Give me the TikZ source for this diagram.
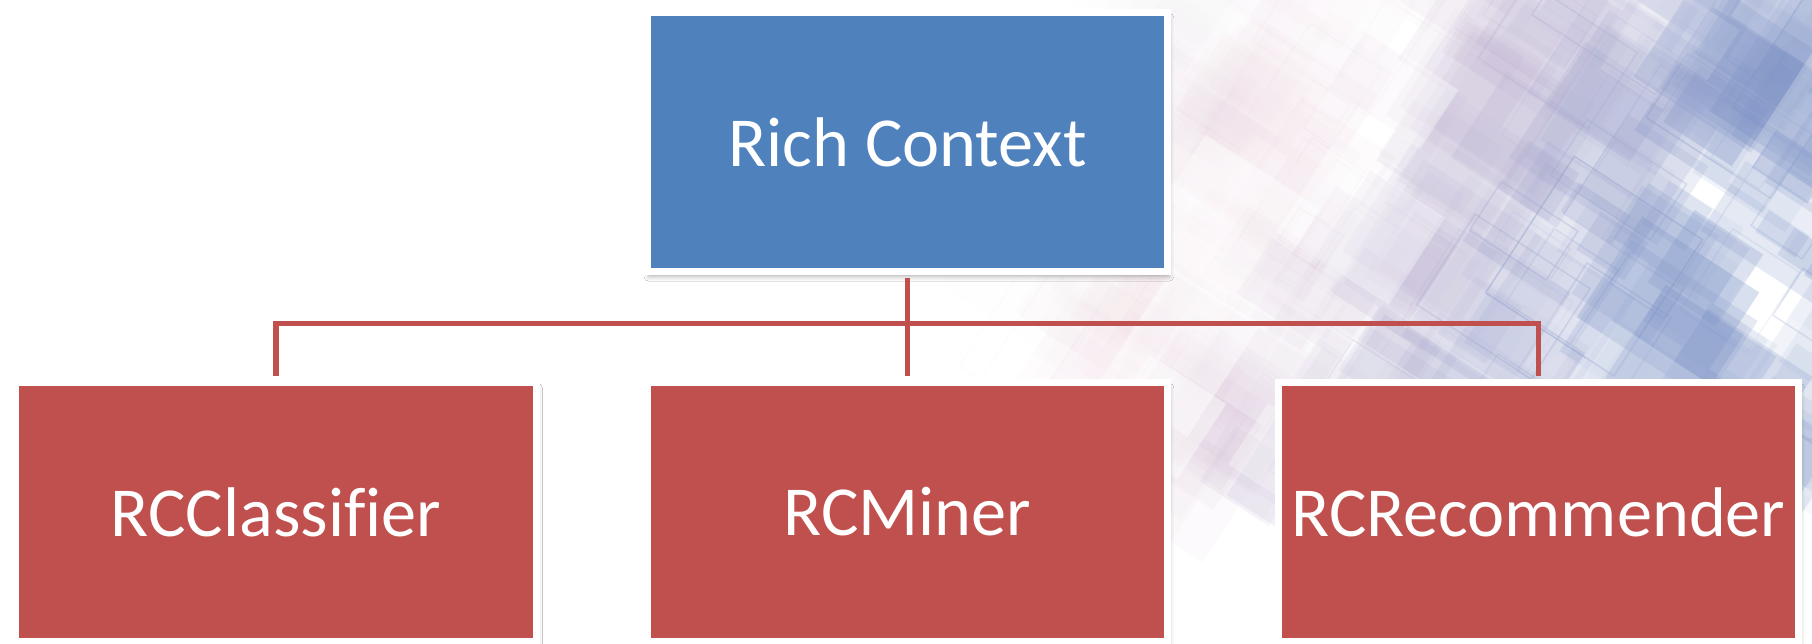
\documentclass[tikz,border=0pt]{standalone}
\usepackage{fontspec}
\setmainfont{Carlito}[Ligatures=NoCommon]
\usetikzlibrary{shadows.blur}
\definecolor{boxblue}{HTML}{4F81BD}
\definecolor{boxred}{HTML}{C0504D}
\definecolor{decoblue}{HTML}{7F95C8}
\definecolor{decopink}{HTML}{E6C4D8}

\begin{document}
\begin{tikzpicture}[x=0.02cm, y=-0.02cm,
  card/.style={draw=white, line width=0.14cm, minimum width=10.42cm,
    minimum height=5.18cm, inner sep=0pt, text=white,
    font=\fontsize{40}{48}\selectfont,
    blur shadow={shadow xshift=0.8pt, shadow yshift=-3pt,
      shadow blur radius=2.5pt, shadow opacity=30}},
  link/.style={draw=boxred, line width=0.11cm,
    shorten <=0.07cm, shorten >=0.07cm}]
\useasboundingbox (0,0) rectangle (1812,644);
\fill[white] (0,0) rectangle (1812,644);

% translucent tilted tiles in the upper right corner
\begin{scope}
\clip (0,0) rectangle (1812,644);
\pgfmathsetseed{4242}
\foreach \i in {1,...,340}{
  \pgfmathsetmacro{\cx}{1050+800*rnd}
  \pgfmathsetmacro{\cy}{-40+520*rnd}
  \pgfmathsetmacro{\raw}{\cx-1380+0.55*\cy}
  \pgfmathsetmacro{\dd}{max(0,min(1,\raw/420))}
  \pgfmathsetmacro{\ee}{max(0,min(1,(\raw+250)/250))}
  \pgfmathsetmacro{\ww}{40+120*rnd}
  \pgfmathsetmacro{\hh}{\ww*(0.5+0.9*rnd)}
  \pgfmathtruncatemacro{\mix}{100*\dd}
  \pgfmathsetmacro{\op}{0.05*\ee+0.3*\dd*rnd}
  \pgfmathsetmacro{\kind}{rnd}
  \begin{scope}[shift={(\cx,\cy)}, rotate=-33]
    \ifdim\kind pt<0.7pt
      \fill[decoblue!\mix!decopink, fill opacity=\op]
        (-\ww/2,-\hh/2) rectangle (\ww/2,\hh/2);
    \else
      \ifdim\kind pt<0.82pt
        \fill[white, fill opacity=0.45*\ee*(1-0.5*\dd)]
          (-\ww/2,-\hh/2) rectangle (\ww/2,\hh/2);
      \else
        \draw[decoblue!\mix!decopink, draw opacity=1.4*\op, line width=0.03cm]
          (-\ww/2,-\hh/2) rectangle (\ww/2,\hh/2);
      \fi
    \fi
  \end{scope}
}
\end{scope}

% hierarchy
\node[card, fill=boxblue] (ctx) at (907.5,142) {Rich Context};
\node[card, fill=boxred] (cls) at (276,512) {RCClassifier};
\node[card, fill=boxred] (min) at (907.5,512) {RCMiner};
\node[card, fill=boxred] (rec) at (1538.5,512) {RCRecommender};

\draw[link] (ctx.south) -- (min.north);
\draw[link] (cls.north) -- ++(0,-55.5) -| (rec.north);
\end{tikzpicture}
\end{document}
